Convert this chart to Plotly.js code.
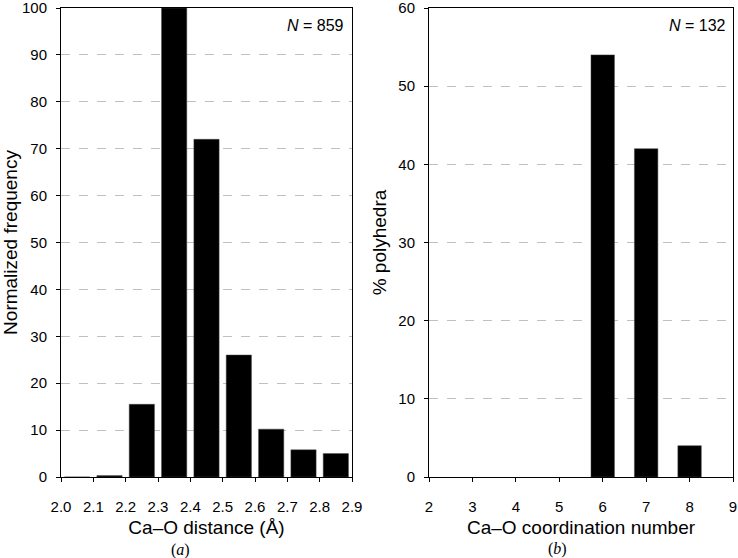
<!DOCTYPE html>
<html>
<head>
<meta charset="utf-8">
<script src="https://cdn.plot.ly/plotly-3.0.1.min.js"></script>
<style>
  body { margin: 0; padding: 0; background: #fff; }
  #chart { width: 738px; height: 558px; }
</style>
</head>
<body>
<div id="chart"></div>
<script>
// panel (a): Ca-O distance histogram (bin centres)
var distBins = [2.05, 2.15, 2.25, 2.35, 2.45, 2.55, 2.65, 2.75, 2.85];
var distFreq = [0, 0.3, 15.5, 100, 72, 26, 10.2, 5.8, 5.0];

// panel (b): coordination numbers
var coordNums = [6, 7, 8];
var coordPct = [54, 42, 4];

var tickDist = [2.0, 2.1, 2.2, 2.3, 2.4, 2.5, 2.6, 2.7, 2.8, 2.9];
var tickDistText = ['2.0', '2.1', '2.2', '2.3', '2.4', '2.5', '2.6', '2.7', '2.8', '2.9'];

var fnt = 'Liberation Sans, Arial, sans-serif';
var serif = 'Liberation Serif, Times New Roman, serif';

// plot area: top and bottom edge in pixels
var plotTop = 8, plotBot = 477, H = 558;

function paperY(py) {
    return (plotBot - py) / (plotBot - plotTop);
}

function buildChart() {
    var barA = {
        x: distBins,
        y: distFreq,
        type: 'bar',
        width: 0.078,
        marker: {color: '#000', line: {color: '#444', width: 0.5}},
        xaxis: 'x',
        yaxis: 'y',
        hoverinfo: 'skip'
    };

    var barB = {
        x: coordNums,
        y: coordPct,
        type: 'bar',
        width: 0.54,
        marker: {color: '#000', line: {color: '#444', width: 0.5}},
        xaxis: 'x2',
        yaxis: 'y2',
        hoverinfo: 'skip'
    };

    var axisCommon = {
        showline: true,
        linecolor: '#000',
        linewidth: 1,
        mirror: true,
        ticks: 'outside',
        ticklen: 4,
        tickcolor: '#000',
        tickfont: {family: fnt, size: 15, color: '#000'},
        ticklabeloverflow: 'allow',
        zeroline: false
    };

    var xExtra = {ticklabelstandoff: 12, showgrid: false};
    var yExtra = {
        ticklabelstandoff: 6,
        dtick: 10,
        showgrid: true,
        gridcolor: '#c0c0c0',
        griddash: 'dash'
    };

    var layout = {
        width: 738,
        height: 558,
        showlegend: false,
        paper_bgcolor: '#fff',
        plot_bgcolor: '#fff',
        font: {family: fnt, color: '#000'},
        margin: {l: 0, r: 0, t: plotTop, b: H - plotBot},
        xaxis: Object.assign({}, axisCommon, xExtra, {
            domain: [61 / 738, 352 / 738],
            range: [2.0, 2.9],
            tickvals: tickDist,
            ticktext: tickDistText,
            anchor: 'y',
            title: {text: 'Ca–O distance (Å)', font: {family: fnt, size: 19}, standoff: 6}
        }),
        yaxis: Object.assign({}, axisCommon, yExtra, {
            range: [0, 100],
            anchor: 'x',
            title: {text: 'Normalized frequency', font: {family: fnt, size: 19}, standoff: 6}
        }),
        xaxis2: Object.assign({}, axisCommon, xExtra, {
            domain: [429 / 738, 733 / 738],
            range: [2, 9],
            dtick: 1,
            anchor: 'y2',
            title: {text: 'Ca–O coordination number', font: {family: fnt, size: 19}, standoff: 6}
        }),
        yaxis2: Object.assign({}, axisCommon, yExtra, {
            range: [0, 60],
            anchor: 'x2',
            title: {text: '% polyhedra', font: {family: fnt, size: 19}, standoff: 6}
        }),
        annotations: [
            {
                text: '<i>N</i> = 859', xref: 'x domain', yref: 'y domain',
                x: 0.98, y: 0.985, xanchor: 'right', yanchor: 'top',
                showarrow: false, font: {family: fnt, size: 16}
            },
            {
                text: '<i>N</i> = 132', xref: 'x2 domain', yref: 'y2 domain',
                x: 0.985, y: 0.985, xanchor: 'right', yanchor: 'top',
                showarrow: false, font: {family: fnt, size: 16}
            },
            {
                text: '(<i>a</i>)', xref: 'paper', yref: 'paper',
                x: 180 / 738, y: paperY(550), xanchor: 'center', yanchor: 'middle',
                showarrow: false, font: {family: serif, size: 16}
            },
            {
                text: '(<i>b</i>)', xref: 'paper', yref: 'paper',
                x: 557 / 738, y: paperY(549), xanchor: 'center', yanchor: 'middle',
                showarrow: false, font: {family: serif, size: 16}
            }
        ]
    };

    Plotly.newPlot('chart', [barA, barB], layout, {staticPlot: true});
}

buildChart();
</script>
</body>
</html>
